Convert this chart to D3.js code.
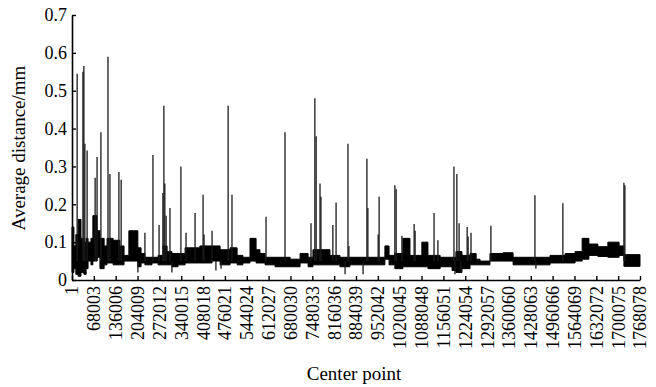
<!DOCTYPE html>
<html>
<head>
<meta charset="utf-8">
<script src="https://cdn.jsdelivr.net/npm/d3@7"></script>
<style>
  body { margin: 0; background: #fff; }
  svg text { font-family: 'Liberation Serif', 'Times New Roman', serif; fill: #000; }
</style>
</head>
<body>
<svg id="chart" width="656" height="387"></svg>
<script>
// dense part of the curve, read as a low/high envelope per center point
const bandCenters = [1, 6000, 12000, 19000, 28000, 37000, 44000, 50000, 59000, 65000,
  78000, 87000, 100000, 109000, 128000, 149000, 162000, 177000, 205000, 215000,
  227000, 249000, 268000, 283000, 296000, 311000, 330000, 352000, 398000, 436000,
  461000, 492000, 514000, 532000, 548000, 554000, 573000, 585000, 601000, 632000,
  679000, 710000, 735000, 750000, 803000, 834000, 865000, 903000, 974000, 987000,
  1005000, 1030000, 1052000, 1089000, 1108000, 1146000, 1183000, 1195000, 1214000, 1239000,
  1258000, 1270000, 1301000, 1342000, 1373000, 1441000, 1488000, 1535000, 1566000, 1588000,
  1609000, 1637000, 1668000, 1703000, 1718000, 1768078];
const bandLow = [0.02, 0.03, 0.015, 0.01, 0.02, 0.015, 0.03, 0.05, 0.04, 0.05,
  0.06, 0.03, 0.04, 0.045, 0.04, 0.04, 0.05, 0.05, 0.035, 0.045,
  0.04, 0.045, 0.04, 0.04, 0.04, 0.035, 0.04, 0.045, 0.045, 0.05,
  0.04, 0.045, 0.04, 0.045, 0.045, 0.05, 0.045, 0.045, 0.04, 0.035,
  0.035, 0.045, 0.035, 0.04, 0.04, 0.035, 0.04, 0.04, 0.055, 0.04,
  0.03, 0.035, 0.035, 0.035, 0.03, 0.035, 0.025, 0.02, 0.03, 0.04,
  0.04, 0.04, 0.05, 0.05, 0.04, 0.04, 0.045, 0.045, 0.05, 0.055,
  0.065, 0.062, 0.06, 0.065, 0.036, 0.036];
const bandHigh = [0.14, 0.09, 0.12, 0.16, 0.11, 0.1, 0.11, 0.1, 0.11, 0.17,
  0.13, 0.11, 0.09, 0.11, 0.105, 0.09, 0.065, 0.13, 0.085, 0.07,
  0.06, 0.06, 0.065, 0.09, 0.075, 0.07, 0.07, 0.085, 0.09, 0.09,
  0.08, 0.085, 0.065, 0.06, 0.06, 0.11, 0.08, 0.07, 0.06, 0.06,
  0.055, 0.07, 0.06, 0.08, 0.065, 0.06, 0.06, 0.06, 0.09, 0.065,
  0.07, 0.11, 0.065, 0.1, 0.065, 0.06, 0.06, 0.075, 0.065, 0.07,
  0.055, 0.05, 0.07, 0.072, 0.06, 0.06, 0.065, 0.07, 0.075, 0.11,
  0.095, 0.088, 0.1, 0.09, 0.067, 0.067];

// isolated peaks (and a few dips) standing out of the band
const spikeCenters = [16000, 34000, 37000, 40000, 47000, 72000, 78000, 90000, 112000, 118000,
  146000, 153000, 227000, 252000, 271000, 283000, 286000, 289000, 293000, 305000,
  339000, 355000, 383000, 408000, 411000, 436000, 486000, 498000, 604000, 663000,
  744000, 756000, 760000, 772000, 775000, 812000, 822000, 859000, 862000, 918000,
  921000, 953000, 956000, 1005000, 1009000, 1027000, 1065000, 1068000, 1127000, 1139000,
  1189000, 1198000, 1205000, 1230000, 1233000, 1242000, 1304000, 1441000, 1528000, 1718000,
  1721000,
  205000, 311000, 448000, 464000, 850000, 906000, 1192000, 1211000, 1444000];
const spikeValues = [0.545, 0.55, 0.565, 0.36, 0.342, 0.27, 0.325, 0.39, 0.59, 0.28,
  0.285, 0.265, 0.125, 0.33, 0.145, 0.23, 0.46, 0.255, 0.17, 0.19,
  0.30, 0.125, 0.177, 0.225, 0.12, 0.13, 0.46, 0.225, 0.167, 0.39,
  0.15, 0.48, 0.38, 0.255, 0.22, 0.145, 0.205, 0.36, 0.09, 0.32,
  0.19, 0.12, 0.22, 0.25, 0.24, 0.117, 0.148, 0.13, 0.177, 0.105,
  0.30, 0.28, 0.15, 0.14, 0.115, 0.125, 0.143, 0.224, 0.203, 0.257,
  0.25,
  0.02, 0.02, 0.025, 0.03, 0.015, 0.015, 0.015, 0.02, 0.03];

const yTicks = [0, 0.1, 0.2, 0.3, 0.4, 0.5, 0.6, 0.7];
const xTicks = [1, 68003, 136006, 204009, 272012, 340015, 408018, 476021, 544024,
  612027, 680030, 748033, 816036, 884039, 952042, 1020045, 1088048, 1156051,
  1224054, 1292057, 1360060, 1428063, 1496066, 1564069, 1632072, 1700075, 1768078];

const margin = { top: 15, right: 16, bottom: 107, left: 72 };
const width = 656 - margin.left - margin.right;
const height = 387 - margin.top - margin.bottom;

const svg = d3.select('#chart')
  .append('g')
  .attr('transform', `translate(${margin.left}, ${margin.top})`);

const x = d3.scaleLinear().domain([1, 1768078]).range([0, width]);
const y = d3.scaleLinear().domain([0, 0.7]).range([height, 0]);

// band
const band = bandCenters.map((c, i) => ({ c: c, lo: bandLow[i], hi: bandHigh[i] }));
const area = d3.area()
  .x(d => x(d.c))
  .y0(d => y(d.lo))
  .y1(d => y(d.hi))
  .curve(d3.curveStepAfter);
svg.append('path')
  .attr('d', area(band))
  .attr('fill', '#000')
  .attr('stroke', '#000')
  .attr('stroke-width', 1);

// spikes
const spikeLine = d3.line().x(d => x(d[0])).y(d => y(d[1]));
svg.selectAll('.spike')
  .data(spikeCenters.map((c, i) => [[c, 0.05], [c, spikeValues[i]]]))
  .join('path')
  .attr('class', 'spike')
  .attr('d', spikeLine)
  .attr('fill', 'none')
  .attr('stroke', '#1a1a1a')
  .attr('stroke-width', 1.3);

// axes
const xAxis = d3.axisBottom(x)
  .tickValues(xTicks)
  .tickFormat(d3.format('d'))
  .tickSizeInner(-4)
  .tickSizeOuter(0)
  .tickPadding(6);
const yAxis = d3.axisLeft(y)
  .tickValues(yTicks)
  .tickFormat(d => String(d))
  .tickSizeInner(-4)
  .tickSizeOuter(0)
  .tickPadding(5);

const gx = svg.append('g')
  .attr('transform', `translate(0, ${height})`)
  .call(xAxis);
gx.selectAll('text')
  .attr('transform', 'rotate(-90)')
  .attr('x', -6)
  .attr('y', 0)
  .attr('dy', '0.33em')
  .attr('text-anchor', 'end')
  .attr('font-size', '18px');

const gy = svg.append('g').call(yAxis);
gy.selectAll('text').attr('font-size', '18px');

svg.selectAll('.domain').attr('stroke', '#000').attr('stroke-width', 1.6);
svg.selectAll('.tick line').attr('stroke', '#000').attr('stroke-width', 1.4);

// titles
svg.append('text')
  .attr('transform', 'rotate(-90)')
  .attr('x', -133)
  .attr('y', -47)
  .attr('text-anchor', 'middle')
  .attr('font-size', '19px')
  .text('Average distance/mm');

svg.append('text')
  .attr('x', 282)
  .attr('y', 365)
  .attr('text-anchor', 'middle')
  .attr('font-size', '19px')
  .text('Center point');
</script>
</body>
</html>
